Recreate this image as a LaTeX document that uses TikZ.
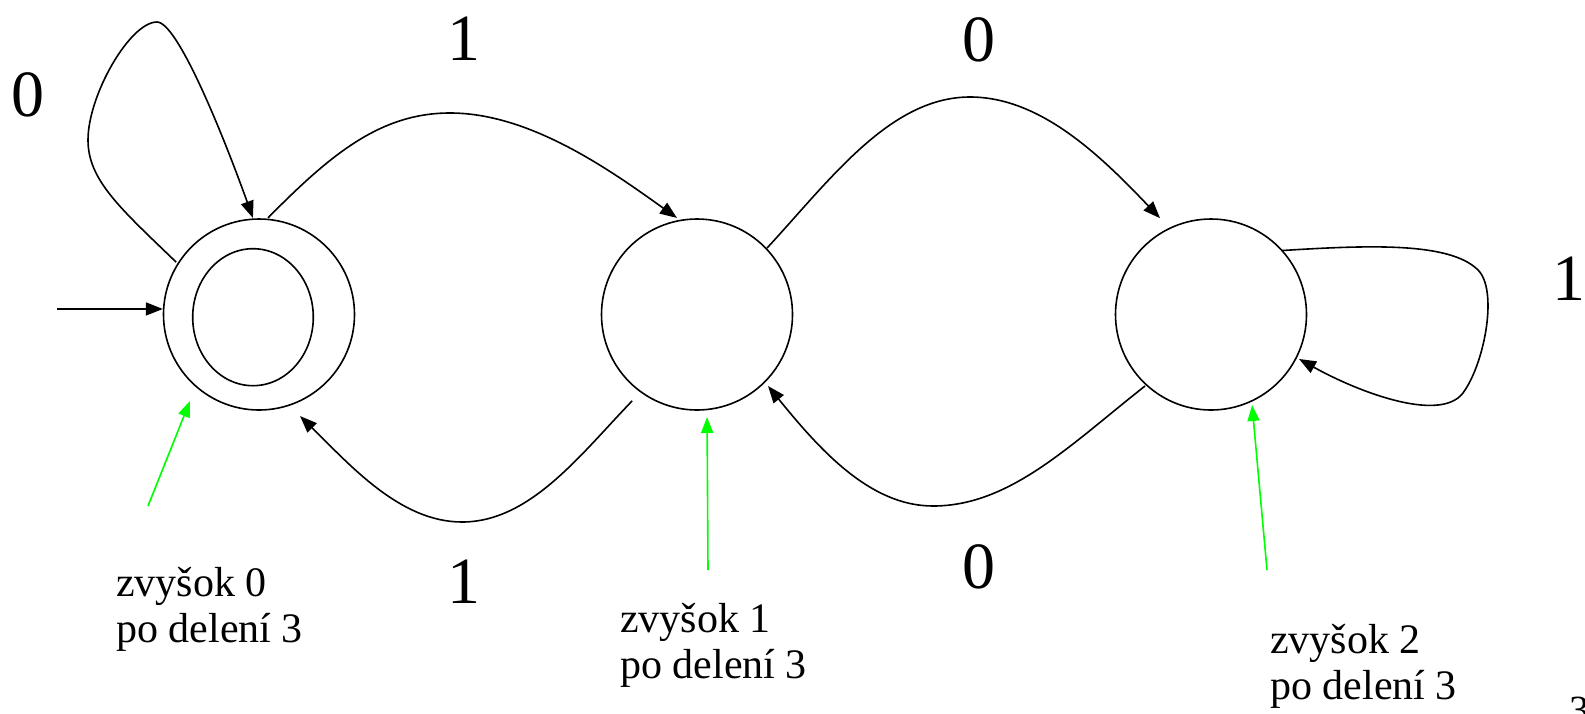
\documentclass[tikz,border=0pt]{standalone}
\usepackage{fontspec}
\setmainfont{Liberation Serif}
\usetikzlibrary{arrows.meta,calc,shapes.geometric}
\definecolor{hintgreen}{RGB}{0,255,0}
\begin{document}
\begin{tikzpicture}[x=1pt,y=-1pt,
  state/.style={circle,draw,line width=1.6pt,minimum size=191pt,inner sep=0pt},
  edge/.style={line width=1.6pt,-{Triangle[length=17pt,width=13pt]}},
  hint/.style={draw=hintgreen,line width=1.6pt,-{Triangle[length=16pt,width=12pt]}},
  sym/.style={font=\fontsize{66}{66}\selectfont,inner sep=0pt},
  note/.style={font=\fontsize{42}{46}\selectfont,align=left,inner sep=0pt,anchor=north west}]
\useasboundingbox (0,0) rectangle (1585,713);
% states
\node[state] (s0) at (259,314.5) {};
\node[ellipse,draw,line width=1.6pt,minimum width=120.6pt,minimum height=137pt,inner sep=0pt] (s0in) at (253,317.2) {};
\node[state] (s1) at (697,314.5) {};
\node[state] (s2) at (1211,314.5) {};
% initial arrow
\coordinate (init) at (57,309);
\draw[edge] (init) -- ($(s0)+(176.7:96.3pt)$);
% loop on s0
\draw[edge] ($(s0)+(147.7:98pt)$) .. controls (120,208) and (88,180) .. (88,140)
  .. controls (88,95) and (130,22) .. (157,22)
  .. controls (178,22) and (225,140) .. ($(s0)+(93.6:96.7pt)$);
% s0 -> s1
\draw[edge] ($(s0)+(84.7:97pt)$) .. controls (330,155) and (380,113) .. (450,113)
  .. controls (530,113) and (610,170) .. ($(s1)+(101.7:98.6pt)$);
% s1 -> s2
\draw[edge] ($(s1)+(43.5:96.5pt)$) .. controls (830,180) and (890,97) .. (970,97)
  .. controls (1040,97) and (1100,155) .. ($(s2)+(117.9:109pt)$);
% s2 -> s1
\draw[edge] ($(s2)+(227.3:97.3pt)$) .. controls (1070,445) and (1010,506) .. (933,506)
  .. controls (870,506) and (820,450) .. ($(s1)+(314.8:100.8pt)$);
% s1 -> s0
\draw[edge] ($(s1)+(233.1:108pt)$) .. controls (580,455) and (530,522) .. (462,522)
  .. controls (400,522) and (350,465) .. ($(s0)+(292:109.5pt)$);
% loop on s2
\draw[edge] ($(s2)+(42:95.6pt)$) .. controls (1370,245) and (1450,242) .. (1478,270)
  .. controls (1498,290) and (1485,360) .. (1465,390)
  .. controls (1445,425) and (1360,393) .. ($(s2)+(333.2:98.6pt)$);
% edge labels
\node[sym] (l00) at (27.5,94.5) {0};
\node[sym] (l01) at (464,39) {1};
\node[sym] (l12) at (979,39.5) {0};
\node[sym] (l22) at (1569,279) {1};
\node[sym] (l10) at (464,582) {1};
\node[sym] (l21) at (979,567) {0};
% green hints
\coordinate (g0) at (148,506);
\coordinate (g1) at (708,570);
\coordinate (g2) at (1267,570);
\draw[hint] (g0) -- ($(s0)+(231.4:110.6pt)$);
\draw[hint] (g1) -- ($(s1)+(275.6:103pt)$);
\draw[hint] (g2) -- ($(s2)+(294.4:99.4pt)$);
% notes
\node[note] (n0) at (116,567.5) {zvyšok 0\\po delení 3};
\node[note] (n1) at (620,603.5) {zvyšok 1\\po delení 3};
\node[note] (n2) at (1270,624.5) {zvyšok 2\\po delení 3};
% page number
\node[font=\fontsize{40}{40}\selectfont,inner sep=0pt,anchor=north west] (pg) at (1569,697) {3};
\end{tikzpicture}
\end{document}
